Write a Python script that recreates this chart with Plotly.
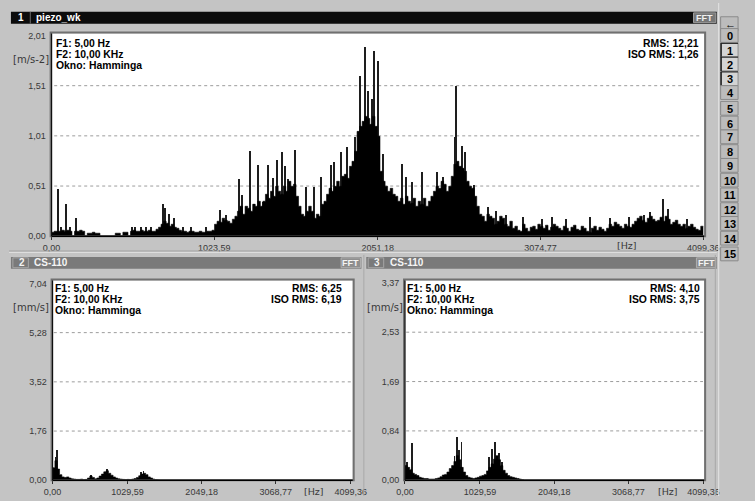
import plotly.graph_objects as go

W, H = 755, 501
F_MAX = 4099.36
SANS = "Liberation Sans, Arial, sans-serif"
WIDE = "DejaVu Sans, Verdana, sans-serif"

# ---------------- channel 1: piezo_wk, acceleration spectrum [m/s-2] ----------------
# 256 equal bins from 0 Hz to F_MAX (dense part of the spectrum)
P1_BODY = [
    0.04, 0.05, 0.05, 0.05, 0.06, 0.05, 0.06, 0.05, 0.00, 0.05,
    0.05, 0.06, 0.05, 0.00, 0.03, 0.03, 0.04, 0.03, 0.03, 0.00,
    0.00, 0.00, 0.00, 0.00, 0.00, 0.03, 0.03, 0.00, 0.04, 0.04, 0.00,
    0.05, 0.06, 0.05, 0.05, 0.06, 0.05, 0.05, 0.06, 0.05, 0.05, 0.07,
    0.09, 0.12, 0.15, 0.13, 0.10, 0.12, 0.09, 0.08, 0.06,
    0.05, 0.05, 0.04, 0.05, 0.05, 0.04, 0.04, 0.05, 0.04, 0.04, 0.05, 0.05, 0.06,
    0.12, 0.15, 0.14, 0.18, 0.16, 0.15, 0.13, 0.17,
    0.20, 0.25, 0.30, 0.22, 0.30, 0.28, 0.25, 0.32, 0.30, 0.35, 0.30, 0.35, 0.42, 0.38, 0.45, 0.40, 0.50, 0.45,
    0.42, 0.50, 0.45, 0.55, 0.50, 0.52, 0.40,
    0.30, 0.22, 0.20, 0.25, 0.30, 0.25, 0.18, 0.22, 0.20,
    0.32, 0.35, 0.42, 0.48, 0.45, 0.50, 0.55, 0.50, 0.60, 0.62, 0.58, 0.70, 0.75, 0.85,
    1.05, 1.10, 1.15, 1.20, 1.18, 1.12, 1.20, 1.10, 1.00,
    0.65, 0.55, 0.50, 0.45, 0.48, 0.42, 0.40,
    0.35, 0.38, 0.32, 0.40, 0.35, 0.33, 0.38, 0.30, 0.35, 0.32, 0.38, 0.30, 0.35, 0.40,
    0.45, 0.50, 0.48, 0.55, 0.52, 0.45, 0.50, 0.60,
    0.72, 0.75, 0.70, 0.68, 0.65, 0.55,
    0.50, 0.48, 0.40,
    0.30, 0.22, 0.20, 0.15, 0.22, 0.20, 0.18, 0.12, 0.15, 0.20, 0.18, 0.12, 0.10, 0.15,
    0.08, 0.10, 0.06, 0.05, 0.12, 0.08, 0.05, 0.09, 0.10, 0.07, 0.12, 0.10, 0.08, 0.11, 0.06, 0.09,
    0.12, 0.10, 0.08, 0.06, 0.10, 0.08, 0.05, 0.09, 0.11, 0.07, 0.06, 0.10, 0.08, 0.05, 0.04, 0.08,
    0.10, 0.06, 0.09, 0.07, 0.05, 0.08, 0.12, 0.10, 0.14, 0.12, 0.10, 0.08, 0.12, 0.10, 0.09, 0.12,
    0.15, 0.18, 0.20, 0.16, 0.14, 0.18, 0.20, 0.17, 0.15, 0.16, 0.19, 0.15, 0.20, 0.17, 0.12, 0.14, 0.16, 0.12,
    0.10, 0.12, 0.08, 0.10, 0.12, 0.09, 0.07, 0.06, 0.10,
]
# isolated narrow lines standing above the dense part
P1_SPIKE_HZ = [37, 55, 91, 116, 152, 506, 524, 560, 591, 621, 700, 713, 737, 767,
               822, 877, 968, 1060, 1096, 1176, 1194, 1243, 1273, 1297, 1328, 1358,
               1389, 1413, 1444, 1468, 1486, 1529, 1596, 1651, 1693, 1754, 1772, 1815,
               1858, 1906, 1935, 1969, 1990, 2016, 2026, 2053, 2083, 2199, 2229, 2266,
               2327, 2424, 2461, 2534, 2544, 2577, 2595, 2656, 2741, 2790, 2857, 2960,
               3082, 3143, 3234, 3387, 3508, 3630, 3722, 3764, 3843, 3874, 3996]
P1_SPIKE_AMP = [0.48, 0.10, 0.33, 0.10, 0.19, 0.10, 0.10, 0.10, 0.10, 0.10, 0.33, 0.29, 0.23, 0.19,
                0.10, 0.10, 0.10, 0.27, 0.22, 0.58, 0.42, 0.86, 0.33, 0.72, 0.35, 0.72,
                0.59, 0.77, 0.85, 0.71, 0.58, 0.87, 0.50, 0.50, 0.60, 0.72, 0.75, 0.85,
                0.90, 1.00, 1.61, 1.90, 1.46, 1.38, 1.86, 1.76, 0.83, 0.73, 0.60, 0.55,
                0.65, 0.65, 0.60, 1.00, 1.51, 0.91, 0.85, 0.52, 0.30, 0.26, 0.22, 0.20,
                0.18, 0.20, 0.18, 0.20, 0.19, 0.20, 0.22, 0.25, 0.38, 0.28, 0.18]

# ---------------- channels 2 and 3: CS-110, velocity spectrum [mm/s] ----------------
P23_BIN_HZ = 32.0
P2_BODY = [
    0.45, 0.70, 0.40, 0.20, 0.12, 0.10, 0.12, 0.08, 0.05, 0.04,
    0.03, 0.03, 0.04, 0.02, 0.03, 0.08, 0.15, 0.10, 0.05, 0.08,
    0.15, 0.22, 0.30, 0.34, 0.25, 0.18, 0.12, 0.08, 0.05, 0.04,
    0.03, 0.02, 0.03, 0.02, 0.04, 0.06, 0.10, 0.16, 0.22, 0.25,
    0.20, 0.12, 0.08, 0.04, 0.02, 0.01,
]
P2_SPIKE_HZ = [40, 55, 520, 740, 1215, 1245]
P2_SPIKE_AMP = [0.80, 1.05, 0.17, 0.38, 0.28, 0.30]

P3_BODY = [
    0.25, 0.22, 0.18, 0.12, 0.10, 0.08, 0.05, 0.04, 0.03, 0.03,
    0.02, 0.02, 0.02, 0.03, 0.04, 0.06, 0.09, 0.10, 0.14, 0.20,
    0.25, 0.32, 0.42, 0.35, 0.22, 0.14, 0.08, 0.05, 0.04, 0.03,
    0.04, 0.05, 0.07, 0.08, 0.10, 0.16, 0.22, 0.28, 0.36, 0.42,
    0.35, 0.25, 0.17, 0.12, 0.08, 0.06, 0.05, 0.04, 0.03, 0.02, 0.01,
]
P3_SPIKE_HZ = [30, 93, 680, 711, 745, 777, 1150, 1200, 1241, 1290, 1330]
P3_SPIKE_AMP = [0.30, 0.62, 0.40, 0.73, 0.50, 0.65, 0.39, 0.53, 0.64, 0.45, 0.30]

# ---------------- axis ticks ----------------
P1_XTICKS = [0.0, 1023.59, 2051.18, 3074.77, 4099.36]
P1_XTEXT = ["0,00", "1023,59", "2051,18", "3074,77", "4099,36"]
P1_YTICKS = [0.0, 0.5025, 1.005, 1.5075, 2.01]
P1_YTEXT = ["0,00", "0,51", "1,01", "1,51", "2,01"]

P23_XTICKS = [0.0, 1029.59, 2049.18, 3068.77, 4099.36]
P23_XTEXT = ["0,00", "1029,59", "2049,18", "3068,77", "4099,36"]
P2_YTICKS = [0.0, 1.76, 3.52, 5.28, 7.04]
P2_YTEXT = ["0,00", "1,76", "3,52", "5,28", "7,04"]
P3_YTICKS = [0.0, 0.8425, 1.685, 2.5275, 3.37]
P3_YTEXT = ["0,00", "0,84", "1,69", "2,53", "3,37"]

INFO_LEFT = ["F1: 5,00 Hz", "F2: 10,00 KHz", "Okno: Hamminga"]
P1_RMS = ["RMS: 12,21", "ISO RMS: 1,26"]
P2_RMS = ["RMS: 6,25", "ISO RMS: 6,19"]
P3_RMS = ["RMS: 4,10", "ISO RMS: 3,75"]
CHANNEL_BUTTONS = ["←"] + [str(i) for i in range(16)]
ACTIVE_CHANNELS = ["1", "2", "3"]


def X(px):
    return px / W


def Y(py):
    return 1 - py / H


fig = go.Figure()


def add_spectrum(body, bin_hz, spike_hz, spike_amp, xa, ya, spike_w):
    # dense part as a solid step outline (one flat step per bin)
    edges = [i * bin_hz for i in range(len(body))] + [len(body) * bin_hz]
    levels = list(body) + [body[-1]]
    fig.add_trace(go.Scatter(x=edges, y=levels, xaxis=xa, yaxis=ya, mode="lines",
                             line=dict(shape="hv", width=0.6, color="#000000"),
                             fill="tozeroy", fillcolor="#000000",
                             showlegend=False, hoverinfo="skip"))
    fig.add_trace(go.Bar(x=spike_hz, y=spike_amp, width=spike_w, xaxis=xa, yaxis=ya,
                         marker=dict(color="#1e1e1e", line=dict(width=0)),
                         showlegend=False, hoverinfo="skip"))


add_spectrum(P1_BODY, F_MAX / len(P1_BODY), P1_SPIKE_HZ, P1_SPIKE_AMP, "x", "y", 6.5)
add_spectrum(P2_BODY, P23_BIN_HZ, P2_SPIKE_HZ, P2_SPIKE_AMP, "x2", "y2", 11)
add_spectrum(P3_BODY, P23_BIN_HZ, P3_SPIKE_HZ, P3_SPIKE_AMP, "x3", "y3", 11)

tickfont = dict(family=SANS, size=9, color="#383838")


def xaxis(dom, rng, vals, text):
    return dict(domain=[X(dom[0]), X(dom[1])], range=rng, tickmode="array",
                tickvals=vals, ticktext=text, showgrid=False, zeroline=False,
                showline=False, ticks="outside", ticklen=3, tickcolor="#303030",
                tickfont=tickfont, fixedrange=True)


def yaxis(dom, rng, vals, text, anchor):
    return dict(domain=[Y(dom[1]), Y(dom[0])], range=rng, tickmode="array",
                tickvals=vals, ticktext=text, showgrid=False, zeroline=False,
                showline=False, ticks="outside", ticklen=2, tickcolor="rgba(0,0,0,0)",
                ticklabelstandoff=1, tickfont=tickfont, anchor=anchor,
                fixedrange=True)


# plot boxes (pixel extents)
B1 = (44, 31, 718, 237)
B2 = (45, 282, 355, 485)
B3 = (409, 282, 718, 485)

fig.update_layout(
    width=W, height=H, autosize=False, margin=dict(l=0, r=0, t=0, b=0, pad=0),
    paper_bgcolor="#c4c4c4", plot_bgcolor="#ffffff",
    barmode="overlay", bargap=0,
    xaxis=xaxis((B1[0], B1[2]), [0, 4105], P1_XTICKS, P1_XTEXT),
    yaxis=yaxis((B1[1], B1[3]), [0, 2.03], P1_YTICKS, P1_YTEXT, "x"),
    xaxis2=xaxis((B2[0], B2[2]), [0, 4126], P23_XTICKS, P23_XTEXT),
    yaxis2=yaxis((B2[1], B2[3]), [0, 7.145], P2_YTICKS, P2_YTEXT, "x2"),
    xaxis3=xaxis((B3[0], B3[2]), [0, 4110], P23_XTICKS, P23_XTEXT),
    yaxis3=yaxis((B3[1], B3[3]), [0, 3.41], P3_YTICKS, P3_YTEXT, "x3"),
)
fig.layout.xaxis.anchor = "y"
fig.layout.xaxis2.anchor = "y2"
fig.layout.xaxis3.anchor = "y3"

shapes = []
annotations = []


def rect(x0, y0, x1, y1, fill, line=None, lw=0):
    shapes.append(dict(type="rect", xref="paper", yref="paper",
                       x0=X(x0), x1=X(x1), y0=Y(y1), y1=Y(y0),
                       fillcolor=fill, line=dict(color=line or fill, width=lw),
                       layer="above"))


def hline(x0, x1, y, color, lw=1):
    shapes.append(dict(type="line", xref="paper", yref="paper", x0=X(x0), x1=X(x1),
                       y0=Y(y), y1=Y(y), line=dict(color=color, width=lw), layer="above"))


def vline(x, y0, y1, color, lw=1):
    shapes.append(dict(type="line", xref="paper", yref="paper", x0=X(x), x1=X(x),
                       y0=Y(y0), y1=Y(y1), line=dict(color=color, width=lw), layer="above"))


def text(x, y, s, size=10, color="#000000", bold=False, xanchor="left", family=SANS):
    annotations.append(dict(xref="paper", yref="paper", x=X(x), y=Y(y),
                            text=f"<b>{s}</b>" if bold else s, showarrow=False,
                            xanchor=xanchor, yanchor="middle", borderpad=0,
                            font=dict(family=family, size=size, color=color)))


# dashed grid lines at the inner ticks, plus the box frames
for yvals, suffix in ((P1_YTICKS, ""), (P2_YTICKS, "2"), (P3_YTICKS, "3")):
    for v in yvals[1:-1]:
        shapes.append(dict(type="line", xref=f"x{suffix} domain", yref=f"y{suffix}",
                           x0=0.004, x1=0.996, y0=v, y1=v, layer="below",
                           line=dict(color="#9c9c9c", width=1, dash="3px,3px")))

for (x0, y0, x1, y1) in (B1, B2, B3):
    rect(x0 - 1, y0 - 1, x1 + 1, y1, "rgba(0,0,0,0)", "#707070", 2)
    vline(x0, y0, y1, "#101010", 1.2)
    hline(x0, x1, y1, "#000000", 1.5)

# channel 1 header
rect(2, 9, 731, 21, "#0c0c0c")
vline(22, 9, 21, "#6a6a6a", 1)
text(8, 15, "1", 10, "#ffffff", True)
text(27, 15, "piezo_wk", 10, "#ffffff", True)
rect(707, 10, 730, 20, "#767676", "#a0a0a0", 1)
text(718.5, 15, "FFT", 9, "#f0f0f0", True, "center")

# separator between rows
hline(0, 731, 252, "#a4a4a4", 1)
hline(0, 731, 253.5, "#e0e0e0", 1)

# channel 2 / 3 headers
for hx0, hx1, num in ((2, 364, "2"), (369, 731, "3")):
    rect(hx0, 258, hx1, 270, "#7a7a7a")
    rect(hx0 + 2, 259, hx0 + 18, 269, "#7a7a7a", "#a6a6a6", 1)
    text(hx0 + 7, 264, num, 10, "#f4f4f4", True)
    text(hx0 + 23, 264, "CS-110", 10, "#f4f4f4", True)
    rect(hx1 - 21, 259, hx1 - 1, 269, "#8e8e8e", "#b0b0b0", 1)
    text(hx1 - 11, 264, "FFT", 9, "#f4f4f4", True, "center")

vline(366.5, 256, 501, "#a8a8a8", 1)
vline(729.5, 256, 501, "#a8a8a8", 1)
vline(733, 0, 501, "#e4e4e4", 1)

# units and info lines
text(3, 57, "[m/s-2]", 10, "#383838", family=WIDE)
text(3, 309, "[mm/s]", 10, "#383838", family=WIDE)
text(369, 309, "[mm/s]", 10, "#383838", family=WIDE)
text(638, 246.5, "[Hz]", 9.5, "#383838", family=WIDE, xanchor="center")
text(315, 496.5, "[Hz]", 9.5, "#383838", family=WIDE, xanchor="center")
text(681, 496.5, "[Hz]", 9.5, "#383838", family=WIDE, xanchor="center")

for (lx, rx, ty, rms) in ((47, 714, 41.5, P1_RMS), (46, 345, 290.5, P2_RMS), (410, 715, 290.5, P3_RMS)):
    for k, s in enumerate(INFO_LEFT):
        text(lx, ty + 10.8 * k, s, 10.4, "#000000", True)
    for k, s in enumerate(rms):
        text(rx, ty + 10.8 * k, s, 10.4, "#000000", True, "right")

# channel selector column
BTN_Y = [21, 33, 48, 62, 77, 91, 107, 122, 136, 151, 165, 180, 195, 210, 224, 239, 255]
for lbl, cy in zip(CHANNEL_BUTTONS, BTN_Y):
    active = lbl in ACTIVE_CHANNELS
    fill = "#d4d4d4" if active else "#bcbcbc"
    rect(735, cy - 7, 753, cy + 7, fill, "#8a8a8a", 1)
    if active:
        vline(735.5, cy - 7, cy + 7, "#202020", 1.5)
        hline(735, 753, cy - 7, "#202020", 1)
    text(745, cy + 0.5, lbl, 11, "#000000", True, "center")

fig.update_layout(shapes=shapes, annotations=annotations)
fig.write_html(
    "out.html",
    config={"responsive": False, "displayModeBar": False},
    post_script="document.documentElement.style.margin='0';"
                "document.body.style.margin='0';document.body.style.padding='0';"
                "document.body.style.overflow='hidden';",
)
